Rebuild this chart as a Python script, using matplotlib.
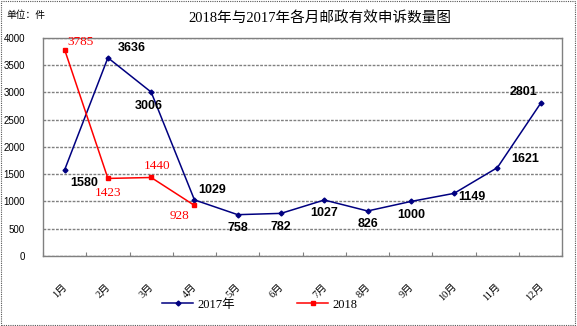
import matplotlib
matplotlib.use("Agg")
import matplotlib.pyplot as plt
from matplotlib.patches import Rectangle

months = ["1月", "2月", "3月", "4月", "5月", "6月", "7月", "8月", "9月", "10月", "11月", "12月"]
y2017 = [1580, 3636, 3006, 1029, 758, 782, 1027, 826, 1000, 1149, 1621, 2801]
y2018 = [3785, 1423, 1440, 928]
yticks = [0, 500, 1000, 1500, 2000, 2500, 3000, 3500, 4000]

serif = ["Liberation Serif", "Noto Sans CJK SC"]
sans = ["Liberation Sans", "Noto Sans CJK SC"]

fig = plt.figure(figsize=(5.77, 3.26), dpi=100)
ax = fig.add_axes([0.0745, 0.2147, 0.900, 0.669])

x = list(range(len(months)))
x18 = x[:len(y2018)]

ax.plot(x, y2017, color="#000080", lw=1.1, marker="D", ms=2.5, label="2017年", zorder=3)
ax.plot(x18, y2018, color="#ff0000", lw=1.1, marker="s", ms=3.5, label="2018", zorder=3)

ax.set_xlim(-0.5, len(months) - 0.5)
ax.set_ylim(0, 4000)
ax.set_yticks(yticks)
ax.set_yticklabels([str(v) for v in yticks], fontsize=7, family=sans)
ax.tick_params(axis="y", length=0, pad=13)
ax.set_xticks([i + 0.5 for i in range(-1, len(months))], minor=False)
ax.set_xticklabels([""] * (len(months) + 1))
ax.tick_params(axis="x", length=3, direction="in", color="#808080")
for i, m in enumerate(months):
    ax.text(i + 0.1, -480, m, rotation=45, ha="right", va="top", fontsize=7.5,
            family=serif, transform=ax.transData)

ax.yaxis.grid(True, color="#808080", lw=1.0, linestyle=(0, (2, 1)))
ax.set_axisbelow(True)
for s in ax.spines.values():
    s.set_color("#808080")
    s.set_linewidth(1.0)

# 2017 labels (offsets in points)
off17 = [(4, -14, "left"), (7, 3, "left"), (-2, -14, "center"), (3, 3, "left"),
         (0, -14, "center"), (0, -14, "center"), (0, -14, "center"), (0, -14, "center"),
         (0, -14, "center"), (3, -7, "left"), (10, 2, "left"), (-2, 4, "right")]
for xi, v, (dx, dy, ha) in zip(x, y2017, off17):
    ax.annotate(str(v), (xi, v), xytext=(dx, dy), textcoords="offset points",
                ha=ha, va="bottom", fontsize=9, fontweight="bold", family=sans, color="black")

off18 = [(2, 1, "left"), (0, -15, "center"), (4, 4, "center"), (-4, -12, "right")]
for xi, v, (dx, dy, ha) in zip(x18, y2018, off18):
    ax.annotate(str(v), (xi, v), xytext=(dx, dy), textcoords="offset points",
                ha=ha, va="bottom", fontsize=9.5, family=serif, color="#ff0000")

fig.text(0.555, 0.945, "2018年与2017年各月邮政有效申诉数量图", ha="center", va="center",
         fontsize=10.5, family=serif)
fig.text(0.012, 0.955, "单位：件", ha="left", va="center", fontsize=7, family=["Noto Sans CJK SC"])

leg = fig.legend(loc="center", bbox_to_anchor=(0.45, 0.065), ncol=2, frameon=False,
                 prop={"family": serif, "size": 9}, columnspacing=5, handlelength=2.5,
                 handletextpad=0.3)

fig.patches.append(Rectangle((0.002, 0.003), 0.995, 0.993, transform=fig.transFigure,
                             fill=False, ec="#555555", lw=0.8, linestyle=(0, (1, 1))))

fig.savefig("out.png", dpi=100)
